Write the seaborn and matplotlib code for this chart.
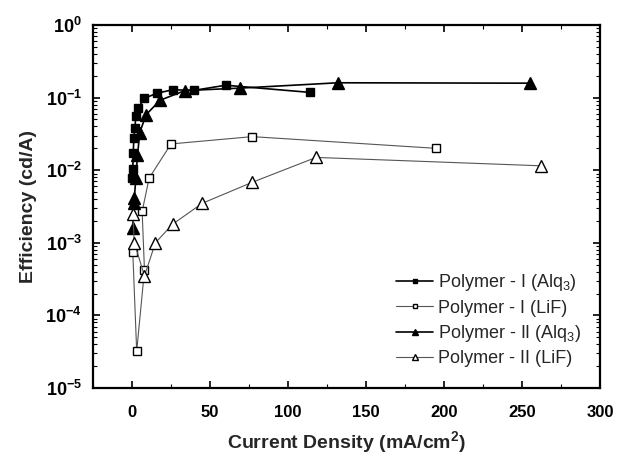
import matplotlib
matplotlib.use("Agg")
import matplotlib.pyplot as plt
import matplotlib.ticker as mticker
import seaborn as sns
import pandas as pd
import numpy as np

# ---- data ----
p1_alq_x = [0.3, 0.5, 0.8, 1.2, 1.8, 2.5, 4, 8, 16, 26, 40, 60, 114]
p1_alq_y = [0.0078, 0.0105, 0.017, 0.028, 0.038, 0.055, 0.072, 0.098, 0.115, 0.128, 0.126, 0.148, 0.118]

p1_lif_x = [0.5, 3, 8, 6.5, 11, 25, 77, 195]
p1_lif_y = [0.00075, 0.000032, 0.00042, 0.0027, 0.0078, 0.023, 0.029, 0.020]

p2_alq_x = [0.5, 1, 1.5, 2.5, 3.5, 5, 9, 18, 34, 69, 132, 255]
p2_alq_y = [0.0016, 0.0035, 0.0042, 0.0078, 0.016, 0.033, 0.058, 0.092, 0.125, 0.135, 0.16, 0.158]

p2_lif_x = [0.5, 1.5, 8, 15, 26, 45, 77, 118, 262]
p2_lif_y = [0.0025, 0.001, 0.00035, 0.001, 0.0018, 0.0035, 0.0068, 0.015, 0.0115]

labels = ["Polymer - I (Alq$_3$)", "Polymer - I (LiF)",
          "Polymer - II (Alq$_3$)", "Polymer - II (LiF)"]
x_ticks = [0, 50, 100, 150, 200, 250, 300]
y_exps = [-5, -4, -3, -2, -1, 0]

sns.set_theme(style="white")
plt.rcParams['font.family'] = ['Liberation Sans', 'DejaVu Sans']
plt.rcParams['mathtext.fontset'] = 'custom'
plt.rcParams['mathtext.rm'] = 'Liberation Sans'
plt.rcParams['mathtext.bf'] = 'Liberation Sans:bold'
plt.rcParams['mathtext.it'] = 'Liberation Sans:italic'

fig = plt.figure(figsize=(6.22, 4.59), dpi=100)
ax = fig.add_axes([93/622, 1-388/459, (600-93)/622, (388-25)/459])

series = [
    (p1_alq_x, p1_alq_y, dict(marker='s', color='black', mfc='black', mec='black', lw=1.2, ms=6)),
    (p1_lif_x, p1_lif_y, dict(marker='s', color='#555555', mfc='white', mec='black', lw=0.8, ms=6)),
    (p2_alq_x, p2_alq_y, dict(marker='^', color='black', mfc='black', mec='black', lw=1.2, ms=8)),
    (p2_lif_x, p2_lif_y, dict(marker='^', color='#555555', mfc='white', mec='black', lw=0.8, ms=8)),
]
for (xs, ys, st), lab in zip(series, labels):
    df = pd.DataFrame({'x': xs, 'y': ys})
    sns.lineplot(data=df, x='x', y='y', ax=ax, sort=False, estimator=None,
                 color=st['color'], linewidth=st['lw'], marker=st['marker'],
                 markersize=st['ms'], markerfacecolor=st['mfc'],
                 markeredgecolor=st['mec'], markeredgewidth=1.0, label=lab)

ax.set_yscale('log')
ax.set_ylim(1e-5, 1)
ax.set_xlim(-25, 300)
ax.set_xticks(x_ticks)
ax.set_xticklabels([str(v) for v in x_ticks], fontweight='bold', fontsize=12)
ax.xaxis.set_minor_locator(mticker.MultipleLocator(25))
ax.set_yticks([10.0**e for e in y_exps])
ax.set_yticklabels([r'$\mathbf{10^{%d}}$' % e for e in y_exps], fontsize=13)
ax.yaxis.set_minor_locator(mticker.LogLocator(base=10, subs=np.arange(2, 10)))
ax.yaxis.set_minor_formatter(mticker.NullFormatter())

ax.tick_params(which='both', direction='in', top=True, right=True,
               bottom=True, left=True, colors='black')
ax.tick_params(which='major', length=5, width=1.2)
ax.tick_params(axis='x', which='major', pad=12)
ax.tick_params(axis='y', which='major', pad=8)
ax.tick_params(which='minor', length=3, width=0.8)
for sp in ax.spines.values():
    sp.set_color('black')
    sp.set_linewidth(1.6)

ax.set_xlabel(r'Current Density (mA/cm$^\mathbf{2}$)', fontsize=14, fontweight='bold', labelpad=7)
ax.set_ylabel('Efficiency (cd/A)', fontsize=14, fontweight='bold', labelpad=6)

leg = ax.legend(loc='lower right', bbox_to_anchor=(0.995, 0.012), frameon=False,
                fontsize=13, handlelength=2.0, handletextpad=0.3, labelspacing=0.35,
                markerscale=0.6)
ax.grid(False)

fig.savefig('out.png', dpi=100)
